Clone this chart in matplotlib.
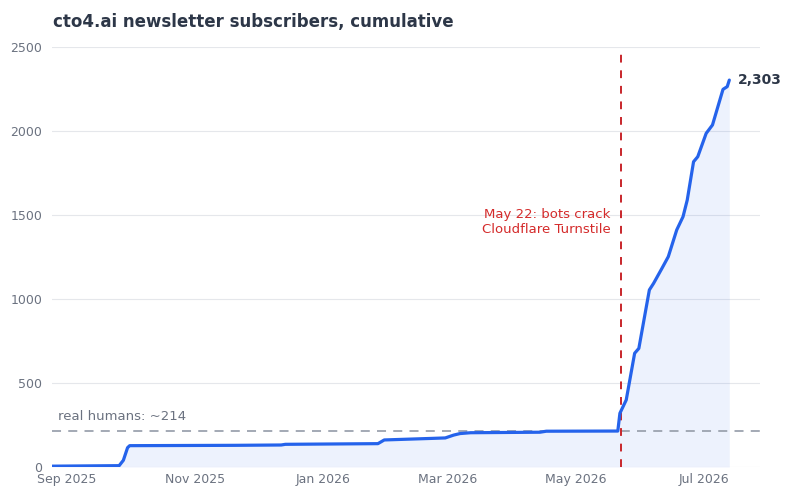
import numpy as np
import matplotlib
matplotlib.use("Agg")
import matplotlib.pyplot as plt
import matplotlib.dates as mdates

# cumulative subscriber counts
dates = np.array([
    "2025-08-25", "2025-09-26", "2025-09-28", "2025-09-30", "2025-10-01",
    "2025-11-20", "2025-12-12", "2025-12-14", "2026-01-27", "2026-01-30",
    "2026-02-21", "2026-02-28", "2026-03-04", "2026-03-07", "2026-03-12",
    "2026-04-14", "2026-04-17", "2026-05-21", "2026-05-22", "2026-05-25",
    "2026-05-29", "2026-05-31", "2026-06-03", "2026-06-05", "2026-06-07",
    "2026-06-11", "2026-06-14", "2026-06-18", "2026-06-21", "2026-06-23",
    "2026-06-26", "2026-06-28", "2026-07-02", "2026-07-05", "2026-07-10",
    "2026-07-12", "2026-07-13",
], dtype="datetime64[D]")
subscribers = [
    5, 8, 40, 115, 127,
    129, 131, 135, 139, 161,
    170, 173, 190, 199, 204,
    207, 213, 214, 320, 399,
    677, 706, 915, 1054, 1093,
    1183, 1252, 1411, 1490, 1589,
    1817, 1847, 1986, 2036, 2248,
    2264, 2303,
]

real_humans = 214
bot_date = np.datetime64("2026-05-22T12", "h")
x_ticks = np.array(["2025-09-01", "2025-11-01", "2026-01-01",
                    "2026-03-01", "2026-05-01", "2026-07-01"], dtype="datetime64[D]")
y_ticks = [0, 500, 1000, 1500, 2000, 2500]

blue = "#2563eb"
red = "#c8262b"
grey_txt = "#6b7280"
dark = "#2d3748"

fig = plt.figure(figsize=(8, 5), dpi=100)
ax = fig.add_axes([0.065, 0.066, 0.885, 0.84])

ax.fill_between(dates, subscribers, 0, color=blue, alpha=0.08, lw=0)
ax.plot(dates, subscribers, color=blue, lw=2.3, solid_capstyle="round", zorder=4)

# real humans baseline
ax.axhline(real_humans, color="#9ca3af", lw=1.3, ls=(0, (5, 4)), zorder=3)
ax.text(dates[0] + np.timedelta64(3, "D"), 303, f"real humans: ~{real_humans}",
        color=grey_txt, fontsize=9.5, ha="left", va="center")

# bot event
ax.axvline(bot_date, color=red, lw=1.4, ls=(0, (4, 4)), zorder=3)
ax.text(bot_date - np.timedelta64(5 * 24, "h"), 1460, "May 22: bots crack\nCloudflare Turnstile",
        color="#d42a2a", fontsize=9.5, ha="right", va="center", linespacing=1.2)

# end label
ax.annotate(f"{subscribers[-1]:,}", (dates[-1], subscribers[-1]),
            xytext=(6, 0), textcoords="offset points",
            fontsize=10, fontweight="bold", color=dark, ha="left", va="center")

ax.set_xlim(np.datetime64("2025-08-25T02", "h"), np.datetime64("2026-07-27T14", "h"))
ax.set_ylim(0, 2500)
ax.set_xticks(x_ticks)
ax.xaxis.set_major_formatter(mdates.DateFormatter("%b %Y"))
ax.set_yticks(y_ticks)
ax.tick_params(axis="both", length=0, labelsize=9, labelcolor=grey_txt)
ax.tick_params(axis="x", pad=4)
ax.tick_params(axis="y", pad=7)
ax.grid(axis="y", color="#e5e7eb", lw=0.8)
ax.set_axisbelow(True)
for s in ax.spines.values():
    s.set_visible(False)

fig.text(0.066, 0.957, "cto4.ai newsletter subscribers, cumulative",
         fontsize=12, fontweight="bold", color=dark, ha="left", va="center")

fig.savefig("out.png", dpi=100, facecolor="white")
